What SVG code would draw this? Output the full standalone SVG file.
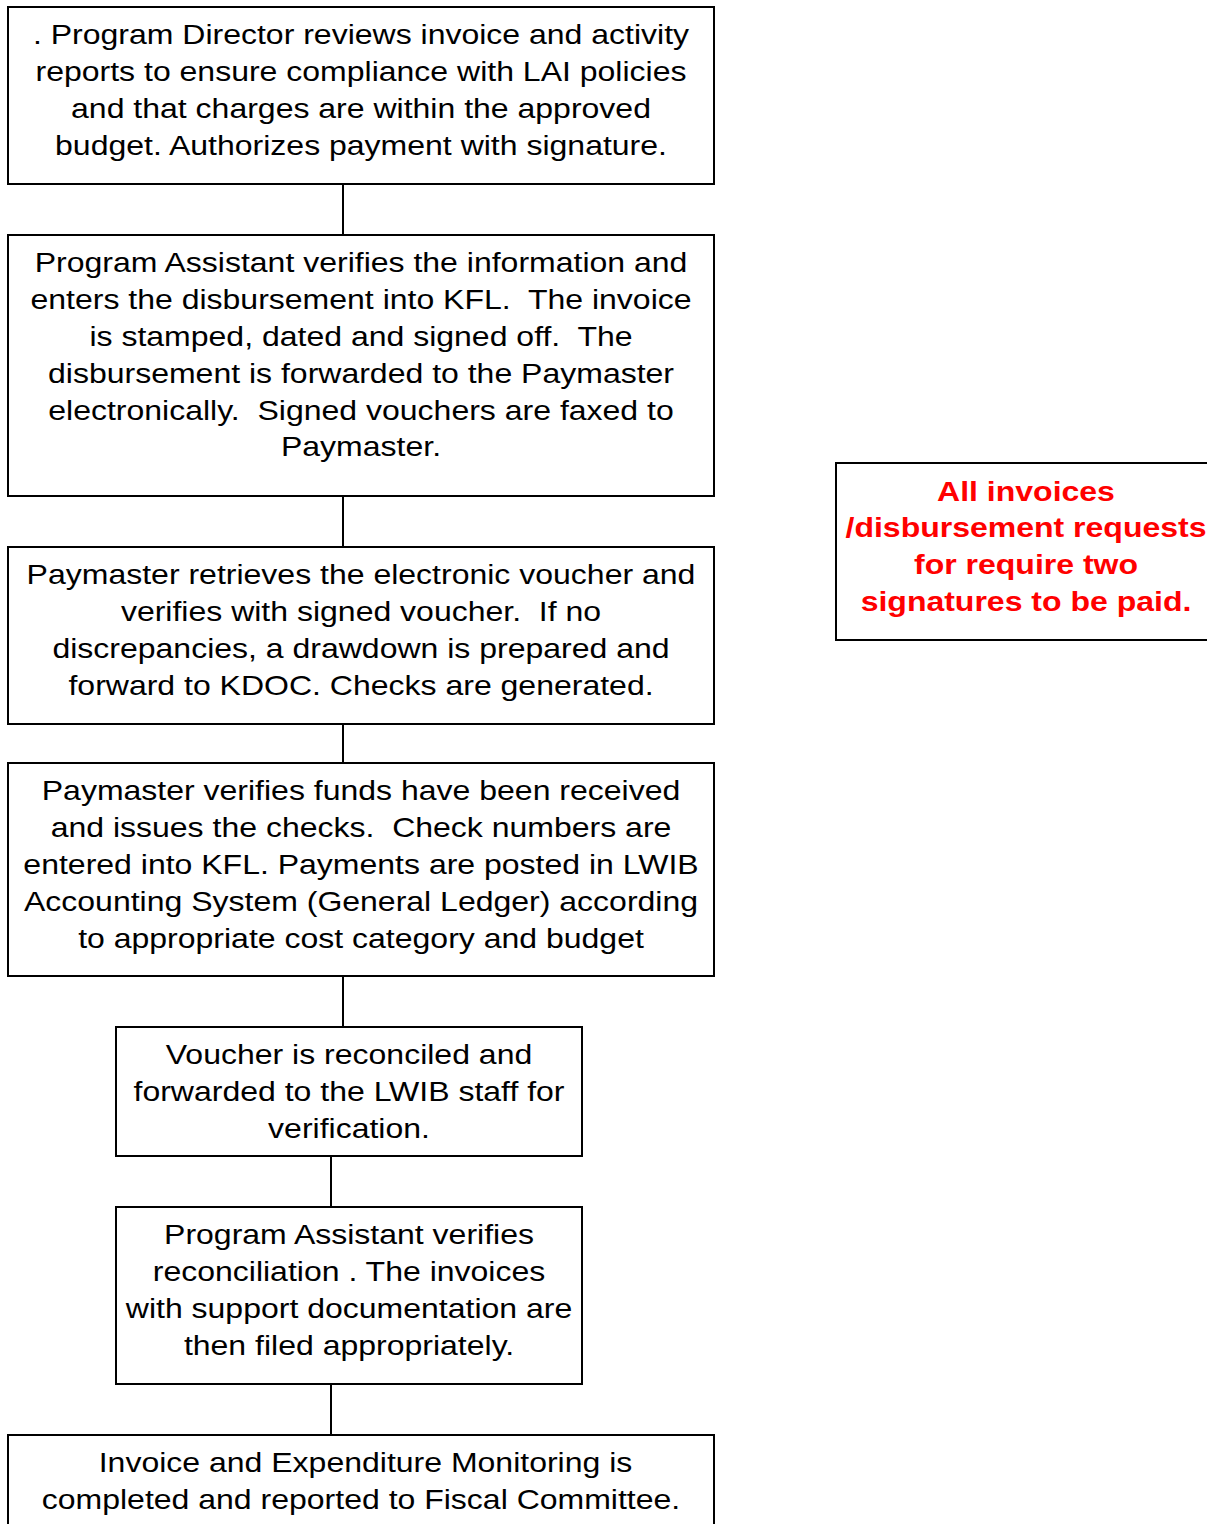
<svg xmlns="http://www.w3.org/2000/svg" width="1207" height="1524" viewBox="0 0 1207 1524">
<style>
.box{fill:#fff;stroke:#000;stroke-width:2}
.t{font-family:"Liberation Sans",Arial,sans-serif;font-size:28.5px;fill:#000;text-anchor:middle}
.r{font-family:"Liberation Sans",Arial,sans-serif;font-size:28.5px;font-weight:bold;fill:#ff0000;text-anchor:middle}
.c{stroke:#000;stroke-width:2;fill:none}
</style>
<rect width="1207" height="1524" fill="#fff"/>
<g id="connectors">
<line class="c" x1="343" y1="184" x2="343" y2="235"/>
<line class="c" x1="343" y1="496" x2="343" y2="547"/>
<line class="c" x1="343" y1="724" x2="343" y2="763"/>
<line class="c" x1="343" y1="976" x2="343" y2="1027"/>
<line class="c" x1="331" y1="1156" x2="331" y2="1207"/>
<line class="c" x1="331" y1="1384" x2="331" y2="1435"/>
</g>
<g id="n1">
<rect class="box" x="8" y="7" width="706" height="177"/>
<g transform="translate(361,0) scale(1.123,1)">
<text class="t" x="0" y="44">. Program Director reviews invoice and activity</text>
<text class="t" x="0" y="81">reports to ensure compliance with LAI policies</text>
<text class="t" x="0" y="118">and that charges are within the approved</text>
<text class="t" x="0" y="155">budget. Authorizes payment with signature.</text>
</g>
</g>
<g id="n2">
<rect class="box" x="8" y="235" width="706" height="261"/>
<g transform="translate(361,0) scale(1.123,1)">
<text class="t" x="0" y="272">Program Assistant verifies the information and</text>
<text class="t" x="0" y="309" xml:space="preserve">enters the disbursement into KFL.  The invoice</text>
<text class="t" x="0" y="346" xml:space="preserve">is stamped, dated and signed off.  The</text>
<text class="t" x="0" y="383">disbursement is forwarded to the Paymaster</text>
<text class="t" x="0" y="420" xml:space="preserve">electronically.  Signed vouchers are faxed to</text>
<text class="t" x="0" y="456">Paymaster.</text>
</g>
</g>
<g id="n3">
<rect class="box" x="8" y="547" width="706" height="177"/>
<g transform="translate(361,0) scale(1.123,1)">
<text class="t" x="0" y="584">Paymaster retrieves the electronic voucher and</text>
<text class="t" x="0" y="621" xml:space="preserve">verifies with signed voucher.  If no</text>
<text class="t" x="0" y="658">discrepancies, a drawdown is prepared and</text>
<text class="t" x="0" y="695">forward to KDOC. Checks are generated.</text>
</g>
</g>
<g id="n4">
<rect class="box" x="8" y="763" width="706" height="213"/>
<g transform="translate(361,0) scale(1.123,1)">
<text class="t" x="0" y="800">Paymaster verifies funds have been received</text>
<text class="t" x="0" y="837" xml:space="preserve">and issues the checks.  Check numbers are</text>
<text class="t" x="0" y="874">entered into KFL. Payments are posted in LWIB</text>
<text class="t" x="0" y="911">Accounting System (General Ledger) according</text>
<text class="t" x="0" y="948">to appropriate cost category and budget</text>
</g>
</g>
<g id="n5">
<rect class="box" x="116" y="1027" width="466" height="129"/>
<g transform="translate(349,0) scale(1.123,1)">
<text class="t" x="0" y="1064">Voucher is reconciled and</text>
<text class="t" x="0" y="1101">forwarded to the LWIB staff for</text>
<text class="t" x="0" y="1138">verification.</text>
</g>
</g>
<g id="n6">
<rect class="box" x="116" y="1207" width="466" height="177"/>
<g transform="translate(349,0) scale(1.123,1)">
<text class="t" x="0" y="1244">Program Assistant verifies</text>
<text class="t" x="0" y="1281">reconciliation . The invoices</text>
<text class="t" x="0" y="1318">with support documentation are</text>
<text class="t" x="0" y="1355">then filed appropriately.</text>
</g>
</g>
<g id="n7">
<rect class="box" x="8" y="1435" width="706" height="120"/>
<g transform="translate(361,0) scale(1.123,1)">
<text class="t" x="4" y="1472">Invoice and Expenditure Monitoring is</text>
<text class="t" x="0" y="1509">completed and reported to Fiscal Committee.</text>
</g>
</g>
<g id="note">
<rect class="box" x="836" y="463" width="400" height="177"/>
<g transform="translate(1026,0) scale(1.123,1)">
<text class="r" x="0" y="501">All invoices</text>
<text class="r" x="0" y="537">/disbursement requests</text>
<text class="r" x="0" y="574">for require two</text>
<text class="r" x="0" y="611">signatures to be paid.</text>
</g>
</g>
</svg>
